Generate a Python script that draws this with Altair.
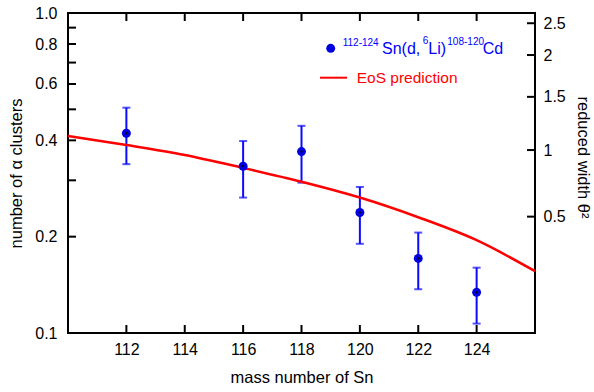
import altair as alt
import pandas as pd

# ---- data ----
mass = [112, 116, 118, 120, 122, 124]
n_alpha = [0.421, 0.332, 0.369, 0.238, 0.171, 0.134]
err_hi = [0.506, 0.398, 0.444, 0.286, 0.206, 0.160]
err_lo = [0.337, 0.265, 0.295, 0.190, 0.137, 0.107]

eos_mass = [110, 112, 114, 116, 118, 120, 122, 124, 126]
eos_n = [0.413, 0.387, 0.360, 0.328, 0.297, 0.265, 0.230, 0.195, 0.156]

x_ticks = [112, 114, 116, 118, 120, 122, 124]
y_ticks = [0.1, 0.2, 0.3, 0.4, 0.5, 0.6, 0.7, 0.8, 0.9, 1.0]
y_labels = [0.1, 0.2, 0.4, 0.6, 0.8, 1.0]
theta_labels = ["0.5", "1", "1.5", "2", "2.5"]
theta_pos = [0.231, 0.373, 0.547, 0.739, 0.929]

legend_parts = ["112-124", "Sn(d,", "6", "Li)", "108-120", "Cd"]
legend_line_text = "EoS prediction"

# ---- layout / style (not data) ----
W, H = 467, 320
FONT = "Liberation Sans"
BLUE = "#0a0aff"
DOT = "#0000e0"
RED = "#ff0000"
TICK = 8
# legend segment placement: (x, baseline y, font size)
legend_layout = [(274.7, 32.7, 10), (314, 41.3, 16), (354.7, 30.7, 10),
                 (360.3, 41.3, 16), (379.3, 32.2, 10), (414.7, 41.3, 16)]

df = pd.DataFrame({"mass": mass, "n": n_alpha, "lo": err_lo, "hi": err_hi})
eos = pd.DataFrame({"mass": eos_mass, "n": eos_n})

xs = alt.Scale(domain=[110, 126], nice=False, zero=False)
ys = alt.Scale(type="log", domain=[0.1, 1], nice=False)

# label expression for the right-hand θ² axis
expr = "''"
for p, lab in reversed(list(zip(theta_pos, theta_labels))):
    expr = f"abs(datum.value - {p}) < 0.01 ? '{lab}' : ({expr})"

errbars = alt.Chart(df).mark_rule(color=BLUE, strokeWidth=2).encode(
    x=alt.X("mass:Q", scale=xs, axis=alt.Axis(
        orient="bottom", values=x_ticks, format="d", ticks=False, tickSize=0,
        labelPadding=8, title="mass number of Sn", titlePadding=12, domain=False)),
    y=alt.Y("lo:Q", scale=ys, axis=alt.Axis(
        orient="left", values=y_labels, format=".1f", ticks=False, tickSize=0,
        labelPadding=11, title="number of α clusters", titlePadding=10, domain=False)),
    y2="hi:Q",
)

caps = alt.Chart(df).transform_fold(["lo", "hi"], as_=["k", "v"]).mark_tick(
    color=BLUE, orient="horizontal", size=8, thickness=2
).encode(
    x=alt.X("mass:Q", scale=xs, axis=None),
    y=alt.Y("v:Q", scale=ys, axis=None),
)

points = alt.Chart(df).mark_circle(color=DOT, size=80, opacity=1).encode(
    x=alt.X("mass:Q", scale=xs, axis=None),
    y=alt.Y("n:Q", scale=ys, axis=None),
)

centers = alt.Chart(df).mark_circle(color="black", size=5, opacity=1).encode(
    x=alt.X("mass:Q", scale=xs, axis=None),
    y=alt.Y("n:Q", scale=ys, axis=None),
)

line = alt.Chart(eos).mark_line(color=RED, strokeWidth=2.5, interpolate="monotone").encode(
    x=alt.X("mass:Q", scale=xs, axis=None),
    y=alt.Y("n:Q", scale=ys, axis=alt.Axis(
        orient="right", values=theta_pos, labelExpr=expr, ticks=False, tickSize=0,
        labelPadding=8, title="reduced width θ²", titlePadding=9, titleY=144,
        domain=False)),
)

# inward ticks on all four frame sides
xt = pd.DataFrame({"v": x_ticks})
yt = pd.DataFrame({"v": y_ticks})
tt = pd.DataFrame({"v": theta_pos})
tick_style = dict(color="black", strokeWidth=2)
ticks_bottom = alt.Chart(xt).mark_rule(**tick_style).encode(
    x=alt.X("v:Q", scale=xs, axis=None), y=alt.value(H - TICK), y2=alt.value(H))
ticks_top = alt.Chart(xt).mark_rule(**tick_style).encode(
    x=alt.X("v:Q", scale=xs, axis=None), y=alt.value(0), y2=alt.value(TICK))
ticks_left = alt.Chart(yt).mark_rule(**tick_style).encode(
    y=alt.Y("v:Q", scale=ys, axis=None), x=alt.value(0), x2=alt.value(TICK))
ticks_right = alt.Chart(tt).mark_rule(**tick_style).encode(
    y=alt.Y("v:Q", scale=ys, axis=None), x=alt.value(W - TICK), x2=alt.value(W))

# legend
one = pd.DataFrame({"k": [0]})
legend_layers = [
    alt.Chart(one).mark_circle(color=DOT, size=80, opacity=1).encode(
        x=alt.value(262.7), y=alt.value(35.3))
]
for txt, (lx, ly, fs) in zip(legend_parts, legend_layout):
    legend_layers.append(
        alt.Chart(one).mark_text(
            text=txt, align="left", baseline="alphabetic", font=FONT,
            fontSize=fs, color="#0000ff"
        ).encode(x=alt.value(lx), y=alt.value(ly))
    )
legend_layers.append(
    alt.Chart(one).mark_rule(color=RED, strokeWidth=2).encode(
        x=alt.value(252), x2=alt.value(279), y=alt.value(64.7)))
legend_layers.append(
    alt.Chart(one).mark_text(
        text=legend_line_text, align="left", baseline="alphabetic", font=FONT,
        fontSize=15.5, color=RED
    ).encode(x=alt.value(288.7), y=alt.value(70.3)))

chart = alt.layer(
    errbars, caps, line, points, centers,
    ticks_bottom, ticks_top, ticks_left, ticks_right, *legend_layers
).resolve_axis(x="independent", y="independent").properties(
    width=W, height=H,
    autosize=alt.AutoSizeParams(type="none"),
    padding={"left": 68, "top": 13, "right": 59, "bottom": 59},
).configure_view(stroke="black", strokeWidth=2).configure_axis(
    labelFont=FONT, labelFontSize=16, labelColor="black",
    titleFont=FONT, titleFontSize=16.5, titleFontWeight="normal", titleColor="black",
    grid=False,
)

chart.save("out.html", embed_options={"renderer": "svg", "actions": False})
